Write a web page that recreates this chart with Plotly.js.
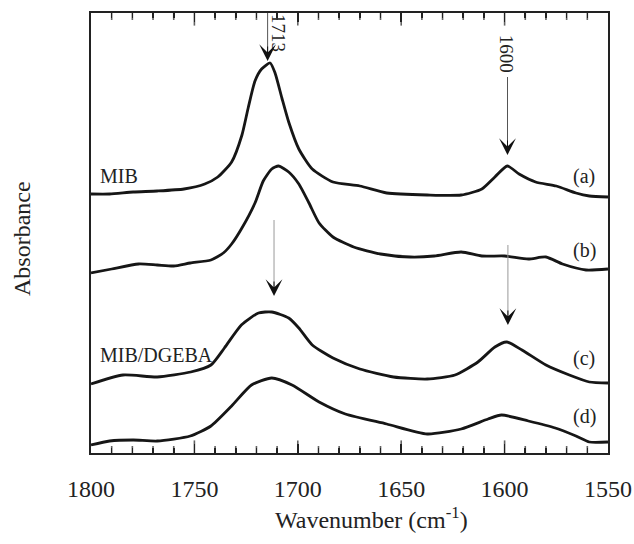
<!DOCTYPE html>
<html>
<head>
<meta charset="utf-8">
<script src="https://cdn.plot.ly/plotly-3.0.1.min.js"></script>
<style>html,body{margin:0;padding:0;background:#fff;}#chart{width:634px;height:544px;}</style>
</head>
<body>
<div id="chart"></div>
<script>
// ---- data (wavenumber in cm-1, offset absorbance in arbitrary units) ----
const wnA  = [1800,1791,1779.6,1768,1755,1745,1738.7,1732,1727,1724,1720.7,1717.5,1713.4,1711,1707.7,1704.4,1699.5,1693,1683,1670,1657,1637.4,1621,1611,1604.7,1598.7,1593,1585,1575,1565.5,1559,1550];
const absA = [2.59,2.59,2.61,2.62,2.64,2.69,2.76,2.91,3.18,3.45,3.72,3.84,3.90,3.80,3.55,3.31,3.04,2.84,2.71,2.67,2.60,2.58,2.58,2.64,2.76,2.87,2.79,2.71,2.67,2.60,2.57,2.56];

const wnB  = [1800,1790,1777,1768,1760,1752,1742,1736,1732,1727.3,1720.7,1716.7,1712.6,1709.3,1704.4,1699.5,1694.6,1689.7,1683,1673,1660,1645.6,1634,1621,1611,1600,1588.5,1580,1572,1560.6,1550];
const absB = [1.80,1.84,1.89,1.88,1.87,1.90,1.93,2.00,2.09,2.24,2.50,2.72,2.84,2.87,2.81,2.69,2.50,2.30,2.16,2.06,1.99,1.96,1.97,2.01,1.97,1.97,1.94,1.96,1.89,1.83,1.84];

const wnC  = [1800,1784.5,1768,1751.8,1742,1735.5,1727.3,1719,1712.6,1704.4,1699.5,1693,1683,1670,1653.7,1637.4,1624,1612.9,1604.7,1599,1591.6,1580,1568.7,1559,1550];
const absC = [0.69,0.78,0.76,0.81,0.88,1.05,1.28,1.40,1.41,1.35,1.25,1.08,0.95,0.84,0.76,0.74,0.78,0.91,1.06,1.11,1.03,0.88,0.78,0.71,0.70];

const wnD  = [1800,1791,1779.6,1768,1752,1742,1732,1722.4,1712.6,1702.8,1689.7,1677,1657,1637.4,1621,1608,1601.5,1588.5,1575.5,1565.5,1559,1550];
const absD = [0.08,0.12,0.13,0.12,0.17,0.27,0.47,0.68,0.75,0.68,0.51,0.39,0.29,0.19,0.24,0.34,0.38,0.32,0.25,0.17,0.11,0.11];

const seriesNames = ['(a)','(b)','(c)','(d)'];
const sampleLabels = ['MIB','MIB/DGEBA'];
const peakLabels = ['1713','1600'];
const xRange = [1800, 1550];
const yRange = [0, 4.4];
const xMajorStep = 50;
const xMinorStep = 10;
const xTitle = 'Wavenumber (cm<sup>-1</sup>)';
const yTitle = 'Absorbance';

// ---- styling ----
const serif = 'Liberation Serif';
const ink = '#161616';

const traces = [[wnA,absA],[wnB,absB],[wnC,absC],[wnD,absD]].map((d,i)=>({
  x: d[0], y: d[1], type: 'scatter', mode: 'lines', name: seriesNames[i],
  line: {color: ink, width: 2.8, shape: 'spline', smoothing: 0.6}, showlegend: false
}));

// inward tick marks on the bottom and top frame (line-ns markers clipped by the plot area,
// so only the inner half shows): minor every 10 cm-1, major every 50 cm-1
const tickX = [], tickY = [], tickSize = [];
const lo = Math.min(xRange[0], xRange[1]), hi = Math.max(xRange[0], xRange[1]);
for (let v = lo + xMinorStep; v < hi; v += xMinorStep) {
  const major = (v - lo) % xMajorStep === 0;
  [yRange[0], yRange[1]].forEach(yy => { tickX.push(v); tickY.push(yy); tickSize.push(major ? 18 : 10); });
}
traces.push({x: tickX, y: tickY, type: 'scatter', mode: 'markers', showlegend: false, hoverinfo: 'skip',
  cliponaxis: true,
  marker: {symbol: 'line-ns', size: tickSize, color: '#222', line: {color: '#222', width: 1.6}}});

function label(text, x, y, opts) {
  return Object.assign({text: text, x: x, y: y, xref: 'x', yref: 'y', showarrow: false,
    font: {family: serif, size: 20, color: '#222'}}, opts || {});
}
// arrow: shaft (thin grey line shape) + black barbed head (annotation)
const shapes = [];
function arrow(x, yTail, yTip, shaftColor) {
  shapes.push({type: 'line', xref: 'x', yref: 'y', x0: x, x1: x, y0: yTail, y1: yTip + 0.08,
    line: {color: shaftColor, width: 1}});
  return {x: x, y: yTip, ax: 0, ay: -16, xref: 'x', yref: 'y', text: '', showarrow: true,
    arrowhead: 3, arrowsize: 2.8, arrowwidth: 1, arrowcolor: '#111'};
}

const annotations = [
  label(sampleLabels[0], 1796.6, 2.77, {xanchor: 'left'}),
  label(sampleLabels[1], 1796.6, 0.98, {xanchor: 'left'}),
  label(seriesNames[0], 1561.6, 2.77),
  label(seriesNames[1], 1561.6, 2.03),
  label(seriesNames[2], 1561.6, 0.945),
  label(seriesNames[3], 1561.6, 0.37),
  label(peakLabels[0], 1709.1, 4.20, {textangle: 90, font: {family: serif, size: 19, color: '#222'}}),
  label(peakLabels[1], 1598.7, 3.99, {textangle: 90, font: {family: serif, size: 19, color: '#222'}}),
  arrow(1714.6, 4.53, 3.92, '#555'),
  arrow(1598.6, 3.76, 2.98, '#555'),
  arrow(1711.5, 2.33, 1.57, '#999'),
  arrow(1598.4, 2.08, 1.28, '#999'),
  {text: xTitle, xref: 'paper', yref: 'paper', x: 0.5416, y: 0, yshift: -65, yanchor: 'middle',
   showarrow: false, font: {family: serif, size: 24, color: '#222'}},
  {text: yTitle, xref: 'paper', yref: 'paper', x: 0, y: 0.5, xshift: -69, yshift: -6, textangle: -90,
   xanchor: 'center', yanchor: 'middle', showarrow: false, font: {family: serif, size: 24, color: '#222'}}
];

const layout = {
  width: 634, height: 544,
  margin: {l: 91, r: 26, t: 13, b: 91},
  xaxis: {
    range: xRange, dtick: xMajorStep, tick0: 1550,
    ticks: 'inside', ticklen: 9, tickwidth: 1.6, tickcolor: '#222',
    minor: {dtick: xMinorStep, ticks: 'inside', ticklen: 5, tickwidth: 1.6, tickcolor: '#222'},
    showline: true, mirror: 'ticks', linecolor: '#222', linewidth: 2,
    showgrid: false, zeroline: false,
    tickfont: {family: serif, size: 24, color: '#222'},
    ticklabelstandoff: 13
  },
  yaxis: {
    range: yRange, showticklabels: false,
    showline: true, mirror: true, linecolor: '#222', linewidth: 2,
    showgrid: false, zeroline: false
  },
  shapes: shapes,
  annotations: annotations
};

Plotly.newPlot('chart', traces, layout, {staticPlot: true});
</script>
</body>
</html>
